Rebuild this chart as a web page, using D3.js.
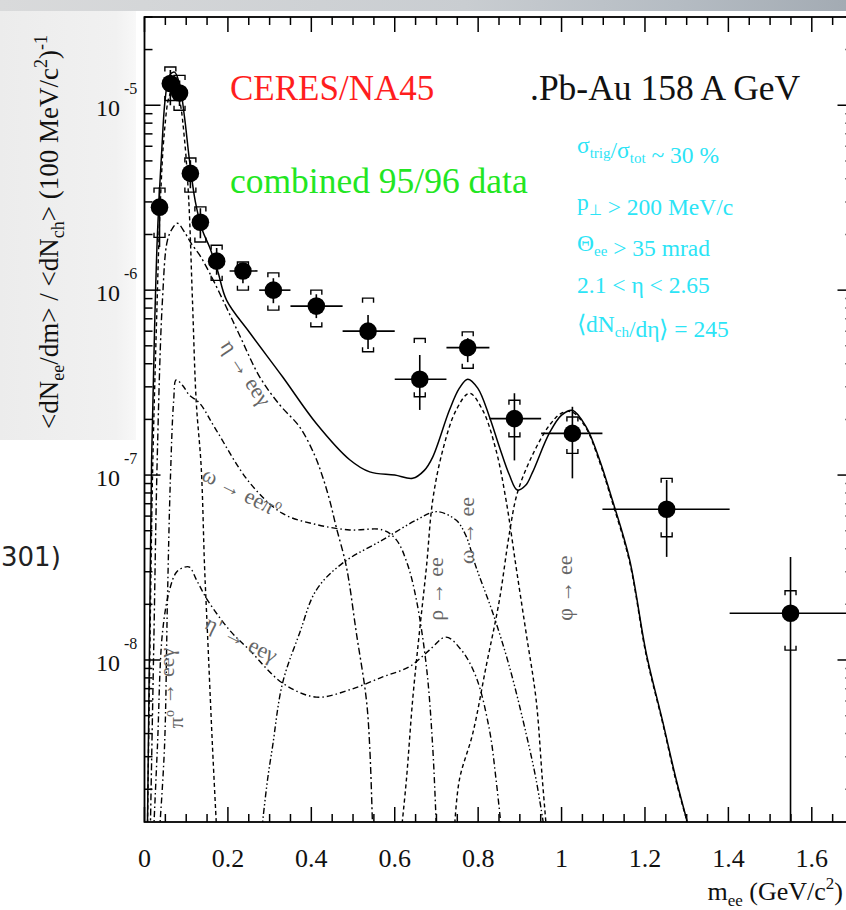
<!DOCTYPE html>
<html><head><meta charset="utf-8">
<script src="https://cdn.jsdelivr.net/npm/d3@7"></script>
<style>
html,body{margin:0;padding:0;background:#fff;overflow:hidden}
svg{display:block}
</style></head><body>
<svg id="c" width="846" height="910"></svg>
<script>
// ---------------- data ----------------
const mass    = [0.036,0.062,0.084,0.110,0.134,0.173,0.236,0.309,0.412,0.536,0.660,0.775,0.887,1.026,1.252,1.549];
const yieldV  = [2.81e-6,1.31e-5,1.165e-5,4.28e-6,2.33e-6,1.435e-6,1.27e-6,1.0e-6,8.2e-7,6.0e-7,3.3e-7,4.89e-7,2.02e-7,1.68e-7,6.53e-8,1.79e-8];
const binLo   = [0.026,0.052,0.074,0.100,0.124,0.160,0.204,0.275,0.350,0.475,0.600,0.724,0.827,0.951,1.098,1.403];
const binHi   = [0.046,0.072,0.094,0.120,0.144,0.186,0.271,0.350,0.475,0.600,0.724,0.827,0.951,1.098,1.403,1.700];
const statLo  = [1.71e-6,1.0e-5,9.9e-6,3.56e-6,1.91e-6,1.21e-6,1.09e-6,8.5e-7,7.06e-7,4.8e-7,2.25e-7,4.08e-7,1.2e-7,9.6e-8,3.61e-8,1e-10];
const statHi  = [3.6e-6,1.55e-5,1.36e-5,5.04e-6,2.77e-6,1.69e-6,1.40e-6,1.16e-6,9.5e-7,7.33e-7,4.46e-7,5.5e-7,2.77e-7,2.34e-7,9.4e-8,3.61e-8];
const sysLo   = [1.93e-6,1.06e-5,9.4e-6,3.39e-6,1.82e-6,1.13e-6,1.0e-6,7.8e-7,6.34e-7,4.64e-7,2.65e-7,3.78e-7,1.61e-7,1.31e-7,4.64e-8,1.13e-8];
const sysHi   = [3.56e-6,1.61e-5,1.45e-5,5.18e-6,2.82e-6,1.75e-6,1.42e-6,1.24e-6,1.0e-6,9.05e-7,5.48e-7,5.95e-7,2.54e-7,2.06e-7,9.6e-8,2.37e-8];

// cocktail curves [m (GeV/c^2), yield]
const totalCurve = [[0.007,1.2e-9],[0.012,1.2e-8],[0.017,1.2e-7],[0.024,6e-7],[0.031,2.0e-6],[0.041,5.5e-6],[0.050,1.1e-5],[0.060,1.45e-5],[0.072,1.51e-5],[0.084,1.3e-5],[0.096,8.6e-6],[0.108,5.0e-6],[0.122,3.0e-6],[0.139,2.1e-6],[0.156,1.71e-6],[0.175,1.28e-6],[0.197,8.8e-7],[0.252,5.9e-7],[0.331,3.4e-7],[0.412,1.9e-7],[0.492,1.21e-7],[0.540,1.04e-7],[0.600,1.0e-7],[0.643,9.6e-8],[0.671,1.06e-7],[0.691,1.25e-7],[0.731,2.24e-7],[0.755,2.95e-7],[0.775,3.3e-7],[0.799,2.95e-7],[0.827,2.07e-7],[0.851,1.42e-7],[0.875,1.0e-7],[0.894,8.3e-8],[0.914,8.8e-8],[0.930,1.03e-7],[0.971,1.69e-7],[1.0,2.11e-7],[1.026,2.24e-7],[1.059,1.82e-7],[1.091,1.21e-7],[1.122,7.3e-8],[1.163,3.5e-8],[1.203,1.09e-8],[1.242,4.7e-9],[1.275,2.25e-9],[1.307,1.2e-9]];
const pi0Curve = [[0.007,1.2e-9],[0.012,7.8e-9],[0.019,9.4e-8],[0.029,6.9e-7],[0.038,3.0e-6],[0.048,7.3e-6],[0.060,1.13e-5],[0.072,1.24e-5],[0.084,1.06e-5],[0.096,6.5e-6],[0.106,3.1e-6],[0.115,8.8e-7],[0.124,2.5e-7],[0.136,1.1e-7],[0.144,3.2e-8],[0.151,1.4e-8],[0.163,3.4e-9],[0.173,1.2e-9]];
const etaCurve = [[0.014,1.2e-9],[0.022,1.13e-8],[0.031,1.36e-7],[0.043,8.8e-7],[0.055,1.86e-6],[0.067,2.16e-6],[0.079,2.3e-6],[0.096,2.06e-6],[0.112,1.79e-6],[0.132,1.55e-6],[0.156,1.24e-6],[0.196,8.1e-7],[0.228,5.7e-7],[0.276,3.4e-7],[0.324,2.4e-7],[0.372,1.82e-7],[0.408,1.28e-7],[0.427,9.8e-8],[0.444,7.3e-8],[0.460,5.2e-8],[0.484,3.2e-8],[0.508,1.4e-8],[0.532,6.1e-9],[0.540,3.4e-9],[0.547,1.2e-9]];
const omegaDalitzCurve = [[0.036,1.2e-9],[0.048,3.4e-9],[0.055,2.1e-8],[0.062,9.4e-8],[0.070,2.54e-7],[0.076,3.27e-7],[0.091,3.06e-7],[0.108,2.7e-7],[0.132,2.45e-7],[0.172,1.75e-7],[0.252,9.1e-8],[0.331,6.2e-8],[0.412,5.4e-8],[0.492,5.05e-8],[0.571,5.05e-8],[0.604,4.46e-8],[0.631,3.27e-8],[0.652,2.11e-8],[0.676,9.2e-9],[0.691,3.4e-9],[0.700,1.2e-9]];
const etaPrimeCurve = [[0.022,1.2e-9],[0.031,3.4e-9],[0.043,1.4e-8],[0.060,2.39e-8],[0.077,2.99e-8],[0.096,3.18e-8],[0.108,3.18e-8],[0.125,2.7e-8],[0.151,2.11e-8],[0.204,1.45e-8],[0.252,1.13e-8],[0.331,7.5e-9],[0.412,6.3e-9],[0.492,6.9e-9],[0.571,8.1e-9],[0.635,9.2e-9],[0.683,1.13e-8],[0.723,1.33e-8],[0.760,1.13e-8],[0.795,8.1e-9],[0.827,4.2e-9],[0.843,2.25e-9],[0.856,1.2e-9]];
const rhoCurve = [[0.281,1.2e-9],[0.295,2.25e-9],[0.307,3.4e-9],[0.331,7.5e-9],[0.372,1.4e-8],[0.412,2.39e-8],[0.475,3.34e-8],[0.571,4.46e-8],[0.652,5.71e-8],[0.700,6.34e-8],[0.747,5.71e-8],[0.770,4.74e-8],[0.795,3.18e-8],[0.835,1.8e-8],[0.875,9.2e-9],[0.915,4.0e-9],[0.939,2.25e-9],[0.959,1.2e-9]];
const omegaCurve = [[0.616,1.2e-9],[0.628,2.25e-9],[0.643,6.1e-9],[0.659,1.4e-8],[0.676,3.18e-8],[0.691,7.3e-8],[0.715,1.36e-7],[0.747,2.24e-7],[0.779,2.77e-7],[0.811,2.24e-7],[0.843,1.36e-7],[0.867,7.3e-8],[0.891,3.18e-8],[0.915,1.4e-8],[0.939,6.1e-9],[0.954,2.25e-9],[0.964,1.2e-9]];
const phiCurve = [[0.743,1.2e-9],[0.755,2.25e-9],[0.787,4.0e-9],[0.819,9.2e-9],[0.851,2.11e-8],[0.875,4.85e-8],[0.894,8.0e-8],[0.930,1.28e-7],[0.971,1.86e-7],[1.0,2.16e-7],[1.026,2.19e-7],[1.059,1.79e-7],[1.091,1.18e-7],[1.122,7.1e-8],[1.163,3.4e-8],[1.203,1.06e-8],[1.242,4.6e-9],[1.275,2.19e-9],[1.307,1.2e-9]];

const xTickValues = [0,0.2,0.4,0.6,0.8,1.0,1.2,1.4,1.6];
const xTickLabels = ["0","0.2","0.4","0.6","0.8","1","1.2","1.4","1.6"];
const yTickValues = [1e-5,1e-6,1e-7,1e-8];
const yTickExps   = ["-5","-6","-7","-8"];

// ---------------- layout ----------------
const svg = d3.select("#c");
const SERIF = "'Liberation Serif','Times New Roman',Times,serif";
const X = d3.scaleLinear().domain([0,1.7]).range([144.5,853.5]);
const Y = d3.scaleLog().domain([1.33e-9,3e-5]).range([822,17]);
const x0 = X(0), x1 = X(1.7), yT = Y(3e-5), yB = Y(1.33e-9);

// slide background pieces
const defs = svg.append("defs");
const g1 = defs.append("linearGradient").attr("id","topband").attr("x1","0").attr("x2","1");
g1.append("stop").attr("offset","0").attr("stop-color","#d9dadb");
g1.append("stop").attr("offset","0.55").attr("stop-color","#c9cdd1");
g1.append("stop").attr("offset","0.8").attr("stop-color","#b5bcc3");
g1.append("stop").attr("offset","1").attr("stop-color","#a3abb3");
const g2 = defs.append("linearGradient").attr("id","leftpanel").attr("x1","0").attr("x2","1");
g2.append("stop").attr("offset","0").attr("stop-color","#ececec");
g2.append("stop").attr("offset","0.85").attr("stop-color","#f1f1f1");
g2.append("stop").attr("offset","1").attr("stop-color","#f8f8f8");
svg.append("rect").attr("x",0).attr("y",0).attr("width",846).attr("height",910).attr("fill","#ffffff");
svg.append("rect").attr("x",0).attr("y",10).attr("width",136).attr("height",430).attr("fill","url(#leftpanel)");
svg.append("rect").attr("x",0).attr("y",0).attr("width",846).attr("height",11).attr("fill","url(#topband)");

// slide text fragment
svg.append("text").attr("x",1).attr("y",566).attr("font-family","'DejaVu Sans',Verdana,sans-serif")
  .attr("font-size",26).attr("fill","#222").text("301)");

defs.append("clipPath").attr("id","plotclip").append("rect")
  .attr("x",x0).attr("y",yT).attr("width",x1-x0).attr("height",yB-yT);

// ---------------- curves ----------------
const line = d3.line().x(d=>X(d[0])).y(d=>Y(d[1])).curve(d3.curveCatmullRom.alpha(0.5));
const cg = svg.append("g").attr("clip-path","url(#plotclip)").attr("fill","none").attr("stroke","#000");
const curves = [
  {d: pi0Curve, dash:"4,3", w:1.4},
  {d: etaCurve, dash:"7,3,2,3", w:1.4},
  {d: omegaDalitzCurve, dash:"6,3,1.5,3", w:1.4},
  {d: etaPrimeCurve, dash:"6,3,1.5,3", w:1.4},
  {d: rhoCurve, dash:"6,2.5,1.5,2.5,1.5,2.5", w:1.4},
  {d: omegaCurve, dash:"4,3", w:1.4},
  {d: phiCurve, dash:"4,3", w:1.4},
  {d: totalCurve, dash:null, w:1.5}
];
curves.forEach(c=>{
  cg.append("path").attr("d",line(c.d)).attr("stroke-width",c.w)
    .attr("stroke-dasharray",c.dash);
});

// ---------------- data points ----------------
const pg = svg.append("g").attr("clip-path","url(#plotclip)").attr("stroke","#000").attr("stroke-width",1.6);
mass.forEach((m,i)=>{
  const cx = X(m), cy = Y(yieldV[i]);
  pg.append("line").attr("x1",X(binLo[i])).attr("x2",X(binHi[i])).attr("y1",cy).attr("y2",cy);
  pg.append("line").attr("x1",cx).attr("x2",cx).attr("y1",Y(statLo[i])).attr("y2",Y(statHi[i]));
  const hw = 5.5, leg = 4.5;
  const yt = Y(sysHi[i]), yb = Y(sysLo[i]);
  pg.append("path").attr("fill","none").attr("stroke-width",1.4)
    .attr("d",`M${cx-hw},${yt+leg}V${yt}H${cx+hw}V${yt+leg}M${cx-hw},${yb-leg}V${yb}H${cx+hw}V${yb-leg}`);
  pg.append("circle").attr("cx",cx).attr("cy",cy).attr("r",8.8).attr("fill","#000").attr("stroke","none");
});

// ---------------- frame & ticks ----------------
const ax = svg.append("g").attr("stroke","#000");
ax.append("rect").attr("x",x0).attr("y",yT).attr("width",x1-x0).attr("height",yB-yT)
  .attr("fill","none").attr("stroke-width",1.8);
const xMinor = d3.range(0,1.7001,0.05);
xMinor.forEach(v=>{
  const major = Math.abs(Math.round(v*5)-v*5)<1e-6;
  const L = major?15:8, xx = X(v);
  ax.append("line").attr("x1",xx).attr("x2",xx).attr("y1",yB).attr("y2",yB-L).attr("stroke-width",1.5);
  ax.append("line").attr("x1",xx).attr("x2",xx).attr("y1",yT).attr("y2",yT+L).attr("stroke-width",1.5);
});
Y.ticks().forEach(v=>{
  const mant = v/Math.pow(10,Math.floor(Math.log10(v)+1e-9));
  const major = Math.abs(mant-1)<1e-6;
  const L = major?16:8, yy = Y(v);
  ax.append("line").attr("x1",x0).attr("x2",x0+L).attr("y1",yy).attr("y2",yy).attr("stroke-width",1.5);
  ax.append("line").attr("x1",x1).attr("x2",x1-L).attr("y1",yy).attr("y2",yy).attr("stroke-width",1.5);
});

// tick labels
const tl = svg.append("g").attr("font-family",SERIF).attr("fill","#111");
xTickValues.forEach((v,i)=>{
  tl.append("text").attr("x",X(v)).attr("y",867).attr("text-anchor","middle").attr("font-size",26).text(xTickLabels[i]);
});
yTickValues.forEach((v,i)=>{
  tl.append("text").attr("x",120).attr("y",Y(v)+11).attr("text-anchor","end").attr("font-size",24).text("10");
  tl.append("text").attr("x",124).attr("y",Y(v)-11).attr("font-size",16).text(yTickExps[i]);
});

// axis titles
const yl = svg.append("text").attr("font-family",SERIF).attr("font-size",27).attr("fill","#111")
  .attr("text-anchor","middle").attr("transform","translate(58,232) rotate(-90)");
yl.append("tspan").text("<dN");
yl.append("tspan").attr("font-size",18).attr("dy",6).text("ee");
yl.append("tspan").attr("dy",-6).text("/dm> / <dN");
yl.append("tspan").attr("font-size",18).attr("dy",6).text("ch");
yl.append("tspan").attr("dy",-6).text("> (100 MeV/c");
yl.append("tspan").attr("font-size",18).attr("dy",-11).text("2");
yl.append("tspan").attr("dy",11).text(")");
yl.append("tspan").attr("font-size",18).attr("dy",-11).text("-1");

const xl = svg.append("text").attr("font-family",SERIF).attr("font-size",26).attr("fill","#111")
  .attr("x",843).attr("y",900).attr("text-anchor","end");
xl.append("tspan").text("m");
xl.append("tspan").attr("font-size",17).attr("dy",6).text("ee");
xl.append("tspan").attr("dy",-6).text(" (GeV/c");
xl.append("tspan").attr("font-size",17).attr("dy",-11).text("2");
xl.append("tspan").attr("dy",11).text(")");

// ---------------- annotations ----------------
svg.append("text").attr("x",230).attr("y",100).attr("font-family",SERIF).attr("font-size",35)
  .attr("fill","#ff1e1e").text("CERES/NA45");
svg.append("text").attr("x",530).attr("y",100).attr("font-family",SERIF).attr("font-size",35.5)
  .attr("fill","#111").text(".Pb-Au 158 A GeV");
svg.append("text").attr("x",230).attr("y",193).attr("font-family",SERIF).attr("font-size",35.5)
  .attr("fill","#22e622").text("combined 95/96 data");

const CY = "#2ce4f6";
function cyanLine(yb, parts){
  const t = svg.append("text").attr("x",577).attr("y",yb).attr("font-family",SERIF).attr("font-size",23.5).attr("fill",CY);
  parts.forEach(p=>{
    if(p.sub){ t.append("tspan").attr("font-size",15).attr("dy",5).text(p.s); t.append("tspan").attr("dy",-5).text(""); }
    else t.append("tspan").text(p.s);
  });
}
cyanLine(153,[{s:"σ"},{s:"trig",sub:1},{s:"/σ"},{s:"tot",sub:1},{s:" ~ 30 %"}]);
cyanLine(210,[{s:"p"},{s:"⊥",sub:1},{s:" > 200 MeV/c"}]);
cyanLine(251,[{s:"Θ"},{s:"ee",sub:1},{s:" > 35 mrad"}]);
cyanLine(293,[{s:"2.1 < η < 2.65"}]);
cyanLine(332,[{s:"⟨dN"},{s:"ch",sub:1},{s:"/dη⟩ = 245"}]);

// curve labels (positioned in data coordinates)
const curveLabels = [
  {m:0.181, v:5.0e-7,  rot:57,  parts:[["η"],[" → eeγ"]]},
  {m:0.134, v:9.5e-8,  rot:27,  parts:[["ω → eeπ"],["o","sup"]]},
  {m:0.1415,v:1.49e-8, rot:27,  parts:[["η' → eeγ"]]},
  {m:0.0935,v:4.28e-9, rot:-90, parts:[["π"],["o","sup"],[" → eeγ"]]},
  {m:0.716, v:1.63e-8, rot:-90, parts:[["ρ → ee"]]},
  {m:0.789, v:3.3e-8,  rot:-90, parts:[["ω → ee"]]},
  {m:1.026, v:1.63e-8, rot:-90, parts:[["φ → ee"]]}
];
curveLabels.forEach(L=>{
  const t = svg.append("text").attr("font-family",SERIF).attr("font-size",22).attr("fill","#666")
    .attr("transform",`translate(${X(L.m)},${Y(L.v)}) rotate(${L.rot})`);
  L.parts.forEach(p=>{
    if(p[1]==="sup"){ t.append("tspan").attr("font-size",14).attr("dy",-9).text(p[0]); t.append("tspan").attr("dy",9).text(""); }
    else t.append("tspan").text(p[0]);
  });
});
</script>
</body></html>
